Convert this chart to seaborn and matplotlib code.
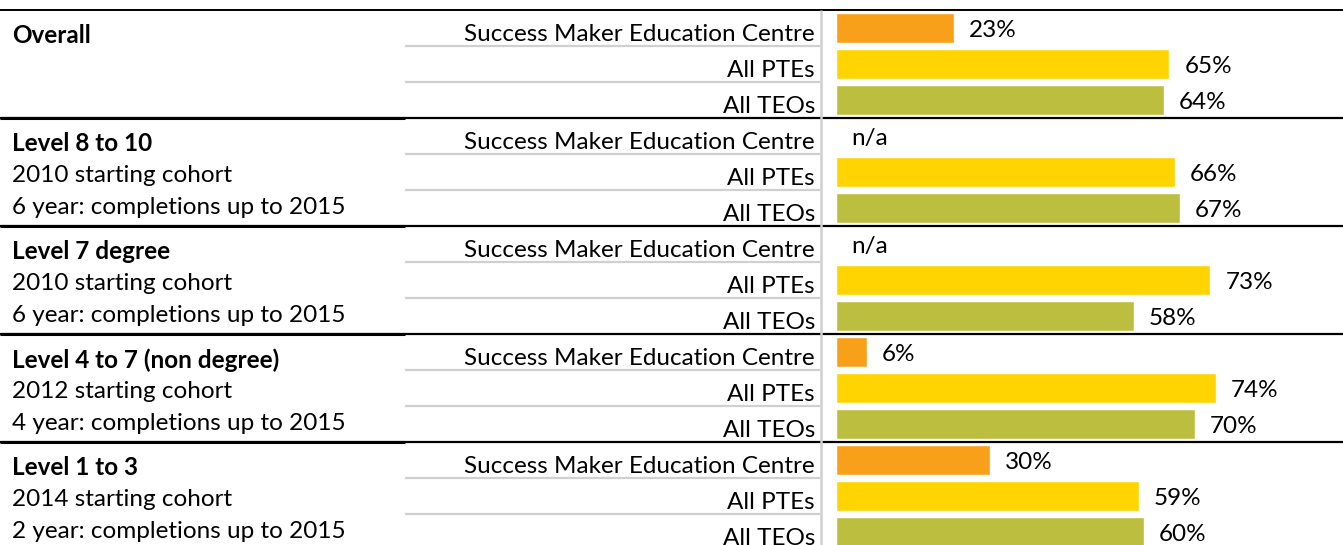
import numpy as np
import pandas as pd
import seaborn as sns
import matplotlib.pyplot as plt

# data
groups = ["Overall", "Level 8 to 10", "Level 7 degree", "Level 4 to 7 (non degree)", "Level 1 to 3"]
group_notes = [
    [],
    ["2010 starting cohort", "6 year: completions up to 2015"],
    ["2010 starting cohort", "6 year: completions up to 2015"],
    ["2012 starting cohort", "4 year: completions up to 2015"],
    ["2014 starting cohort", "2 year: completions up to 2015"],
]
entities = ["Success Maker Education Centre", "All PTEs", "All TEOs"]
smec = [23, None, None, 6, 30]
all_ptes = [65, 66, 73, 74, 59]
all_teos = [64, 67, 58, 70, 60]
colors = ["#F9A01B", "#FFD400", "#BCBE3F"]

rows = []
for g in range(len(groups)):
    for e, vals in zip(entities, [smec, all_ptes, all_teos]):
        rows.append({"row": str(len(rows)), "entity": e, "value": vals[g]})
df = pd.DataFrame(rows)
df["plot_value"] = df["value"].fillna(0)

sns.set_theme(style="white")
plt.rcParams["font.family"] = ["Lato", "DejaVu Sans"]

W, H = 1343, 545
fig = plt.figure(figsize=(W / 100, H / 100), dpi=100)

# row centres sit at 28 px + 36 px per row
y_top = -28 / 36
y_bot = (H - 28) / 36

bg = fig.add_axes([0, 0, 1, 1])
bg.set_xlim(0, W)
bg.set_ylim(y_bot, y_top)
bg.axis("off")

x0 = 836
ax = fig.add_axes([x0 / W, 0, 1 - x0 / W, 1])
sns.barplot(data=df, x="plot_value", y="row", hue="entity", palette=colors,
            order=df["row"].tolist(), hue_order=entities, dodge=False,
            orient="h", width=0.82, saturation=1, legend=False, ax=ax)
ax.set_xlim(0, (W - x0) / 5.13)
ax.set_ylim(y_bot, y_top)
ax.axis("off")

fs = 17.5
for i, r in df.iterrows():
    txt = "n/a" if pd.isna(r["value"]) else f"{int(r['value'])}%"
    ax.text(r["plot_value"] + 2.9, i + 0.06, txt, va="center", ha="left", fontsize=fs, color="black")
    bg.text(815, i + 0.19, r["entity"], va="center", ha="right", fontsize=fs, color="black")

for g, name in enumerate(groups):
    base = 3 * g
    bg.text(12, base + 0.22, name, va="center", ha="left", fontsize=fs, fontweight="bold", color="black")
    for k, note in enumerate(group_notes[g]):
        bg.text(12, base + 0.22 + 0.89 * (k + 1), note, va="center", ha="left", fontsize=fs, color="black")
    # light separators between rows in the label column
    for s in (0.5, 1.5):
        bg.plot([405, 820], [base + s, base + s], color="#D0D0D0", lw=1.6, solid_capstyle="butt")
    # group separator
    bg.plot([0, W], [base - 0.5, base - 0.5], color="black", lw=1.4 if g == 0 else 1.6, solid_capstyle="butt")
    if g > 0:
        bg.plot([0, 405], [base - 0.5, base - 0.5], color="black", lw=2.2, solid_capstyle="butt")

bg.plot([821, 821], [-0.5, y_bot], color="#D0D0D0", lw=1.8, solid_capstyle="butt")

fig.savefig("out.png", dpi=100)
